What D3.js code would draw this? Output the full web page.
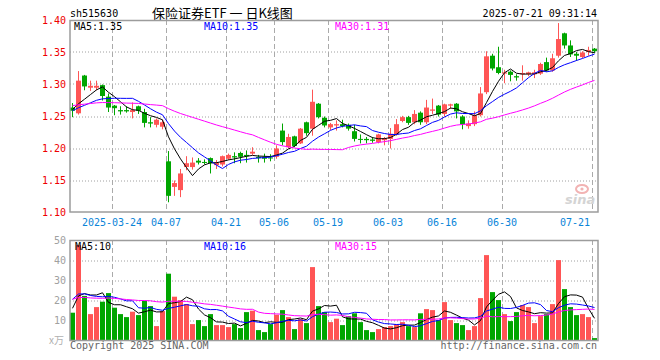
<!DOCTYPE html>
<html><head><meta charset="utf-8">
<script src="https://cdn.jsdelivr.net/npm/d3@7"></script>
<style>body{margin:0;background:#fff}svg{display:block}</style>
</head><body><svg id="c" width="660" height="360"></svg>
<script>
// ---- data ----
const dates = ["2025-03-13","2025-03-14","2025-03-17","2025-03-18","2025-03-19","2025-03-20","2025-03-21","2025-03-24","2025-03-25","2025-03-26","2025-03-27","2025-03-28","2025-03-31",
"2025-04-01","2025-04-02","2025-04-03","2025-04-07","2025-04-08","2025-04-09","2025-04-10","2025-04-11","2025-04-14","2025-04-15","2025-04-16","2025-04-17","2025-04-18","2025-04-21","2025-04-22","2025-04-23","2025-04-24","2025-04-25","2025-04-28","2025-04-29","2025-04-30",
"2025-05-06","2025-05-07","2025-05-08","2025-05-09","2025-05-12","2025-05-13","2025-05-14","2025-05-15","2025-05-16","2025-05-19","2025-05-20","2025-05-21","2025-05-22","2025-05-23","2025-05-26","2025-05-27","2025-05-28","2025-05-29","2025-05-30",
"2025-06-03","2025-06-04","2025-06-05","2025-06-06","2025-06-09","2025-06-10","2025-06-11","2025-06-12","2025-06-13","2025-06-16","2025-06-17","2025-06-18","2025-06-19","2025-06-20","2025-06-23","2025-06-24","2025-06-25","2025-06-26","2025-06-27","2025-06-30",
"2025-07-01","2025-07-02","2025-07-03","2025-07-04","2025-07-07","2025-07-08","2025-07-09","2025-07-10","2025-07-11","2025-07-14","2025-07-15","2025-07-16","2025-07-17","2025-07-18","2025-07-21"];
const open  = [1.264,1.255,1.314,1.295,1.295,1.299,1.281,1.267,1.260,1.260,1.257,1.266,1.257,1.241,1.237,1.234,1.180,1.140,1.135,1.171,1.171,1.181,1.179,1.185,1.174,1.175,1.184,1.188,1.193,1.190,1.192,1.187,1.187,1.186,1.187,1.228,1.202,1.219,1.208,1.241,1.231,1.270,1.248,1.233,1.236,1.238,1.237,1.227,1.215,1.215,1.214,1.210,1.213,1.215,1.222,1.243,1.249,1.241,1.256,1.241,1.259,1.267,1.254,1.267,1.270,1.250,1.235,1.238,1.252,1.288,1.345,1.327,1.317,1.320,1.313,1.316,1.316,1.316,1.317,1.335,1.322,1.345,1.380,1.361,1.348,1.343,1.351,1.356];
const high  = [1.271,1.321,1.315,1.306,1.306,1.300,1.286,1.268,1.266,1.266,1.272,1.267,1.262,1.249,1.247,1.245,1.196,1.150,1.168,1.188,1.186,1.185,1.183,1.186,1.182,1.189,1.192,1.194,1.195,1.197,1.202,1.190,1.192,1.191,1.205,1.239,1.223,1.220,1.232,1.242,1.292,1.271,1.250,1.240,1.244,1.245,1.239,1.237,1.222,1.218,1.218,1.223,1.218,1.232,1.246,1.251,1.251,1.260,1.258,1.276,1.278,1.268,1.270,1.270,1.271,1.252,1.244,1.258,1.296,1.352,1.348,1.359,1.323,1.322,1.316,1.330,1.320,1.323,1.334,1.342,1.348,1.396,1.381,1.369,1.351,1.352,1.359,1.357];
const low   = [1.249,1.253,1.291,1.290,1.291,1.275,1.257,1.252,1.253,1.256,1.247,1.254,1.233,1.233,1.233,1.230,1.116,1.126,1.124,1.166,1.167,1.175,1.175,1.161,1.168,1.172,1.182,1.177,1.177,1.178,1.190,1.178,1.178,1.180,1.184,1.205,1.200,1.202,1.207,1.220,1.220,1.247,1.233,1.229,1.228,1.233,1.228,1.211,1.208,1.208,1.209,1.208,1.205,1.200,1.220,1.241,1.237,1.238,1.237,1.238,1.254,1.250,1.250,1.262,1.247,1.230,1.231,1.235,1.250,1.285,1.322,1.316,1.302,1.305,1.306,1.306,1.313,1.310,1.315,1.320,1.320,1.342,1.356,1.343,1.337,1.341,1.345,1.349];
const close = [1.259,1.306,1.297,1.298,1.298,1.282,1.264,1.263,1.258,1.258,1.260,1.259,1.240,1.239,1.245,1.241,1.126,1.146,1.161,1.177,1.178,1.178,1.178,1.177,1.178,1.188,1.190,1.186,1.187,1.188,1.195,1.185,1.184,1.185,1.200,1.210,1.218,1.204,1.231,1.224,1.273,1.249,1.236,1.238,1.238,1.235,1.231,1.215,1.214,1.213,1.212,1.222,1.216,1.223,1.238,1.249,1.240,1.254,1.241,1.264,1.261,1.253,1.269,1.269,1.258,1.238,1.239,1.252,1.286,1.344,1.325,1.318,1.319,1.315,1.311,1.318,1.319,1.319,1.332,1.322,1.341,1.371,1.361,1.347,1.345,1.350,1.354,1.352];
const volume = [13.9,47.7,22.3,13.2,16.7,19.4,23.7,16.4,13.2,11.7,14.4,12.7,19.9,17.2,7.2,14.7,33.4,21.9,20.2,18.2,8.2,10.2,7.2,13.2,7.7,7.7,6.7,8.2,6.2,14.2,14.9,5.2,4.2,8.2,12.9,15.2,11.7,5.7,10.7,8.7,36.7,17.2,14.2,9.2,10.9,7.7,12.2,13.6,9.2,5.2,4.2,5.7,6.7,7.2,8.2,9.2,7.2,6.7,13.6,15.7,15.2,10.2,19.2,10.2,8.7,7.7,5.2,7.2,21.2,42.7,24.2,20.2,13.2,9.7,14.2,17.7,16.7,8.7,12.2,13.2,18.2,40.2,25.7,16.7,12.7,13.2,11.7,1.2];
const xTickDates  = ["2025-03-24","2025-04-07","2025-04-21","2025-05-06","2025-05-19","2025-06-03","2025-06-16","2025-06-30","2025-07-21"];
const xTickLabels = ["2025-03-24","04-07","04-21","05-06","05-19","06-03","06-16","06-30","07-21"];
const priceTicks = [1.10,1.15,1.20,1.25,1.30,1.35,1.40];
const volTicks = [10,20,30,40,50];
const maPeriods = [5,10,30];
const maNames = ["MA5","MA10","MA30"];
// MA values read at the first visible session (the window starts mid-history)
const priceMaStart = [1.261,1.259,1.267];
const volMaStart = [16.1,20.6,20.6];
const priceMaLabels = ["1.35","1.35","1.31"];
const volMaLabels = ["10","16","15"];
const maColors = ["#000000","#0000ff","#ff00ff"];
const titleCode = "sh515630";
const titleText = "保险证券ETF 一 日K线图";
const timeText = "2025-07-21 09:31:14";

// ---- drawing ----
const svg = d3.select("#c");
const L = 70, R = 598;
const mono = "'DejaVu Sans Mono', monospace";
const RED = "#ff5555", GREEN = "#00a600";
const x = d3.scaleBand().domain(dates).range([L, R]).paddingInner(0).paddingOuter(0);
const bw = x.bandwidth();
const y = d3.scaleLinear().domain([1.10, 1.40]).range([212.5, 20.5]);
const yv = d3.scaleLinear().domain([0, 50]).range([340.5, 240.5]);

// moving average; sessions before the window are represented by their mean,
// derived from the MA value read at the first visible session
function movingAvg(arr, n, start){
  const prior = (n * start - arr[0]) / (n - 1);
  return arr.map((_, i) => {
    const s = Math.max(0, i - n + 1);
    const have = arr.slice(s, i + 1);
    const missing = n - have.length;
    return (d3.sum(have) + missing * prior) / n;
  });
}

// header
svg.append("text").attr("x", L).attr("y", 16.5).attr("font-family", mono).attr("font-size", 10).text(titleCode);
svg.append("text").attr("x", 152).attr("y", 17.5).attr("font-family", "'Noto Sans CJK SC'").attr("font-size", 13)
  .attr("xml:space", "preserve").style("white-space", "pre").text(titleText);
svg.append("text").attr("x", 597).attr("y", 16.5).attr("text-anchor", "end").attr("font-family", mono).attr("font-size", 10).text(timeText);

function panelGrid(yScale, ticks, top, bottom){
  const g = svg.append("g");
  g.selectAll("line.h").data(ticks).join("line")
    .attr("x1", L).attr("x2", R).attr("y1", d => Math.round(yScale(d))).attr("y2", d => Math.round(yScale(d)))
    .attr("stroke", "#a0a0a0").attr("stroke-dasharray", "1,2");
  g.selectAll("line.v").data(xTickDates).join("line")
    .attr("x1", d => x(d) + 0.5).attr("x2", d => x(d) + 0.5).attr("y1", top).attr("y2", bottom)
    .attr("stroke", "#aaaaaa").attr("stroke-dasharray", "5,3");
}
panelGrid(y, priceTicks.filter(t => t > 1.10 && t < 1.40), 20, 212);
panelGrid(yv, volTicks.filter(t => t < 50), 240, 340);

// sina watermark
const wm = svg.append("g");
wm.append("ellipse").attr("cx", 582).attr("cy", 189).attr("rx", 6).attr("ry", 4).attr("fill", "none").attr("stroke", "#f2b3b3").attr("stroke-width", 2);
wm.append("circle").attr("cx", 582).attr("cy", 189).attr("r", 1.6).attr("fill", "#f2b3b3");
wm.append("text").attr("x", 565).attr("y", 204).attr("font-family", "'DejaVu Sans'").attr("font-style", "italic").attr("font-weight", "bold").attr("font-size", 13).attr("fill", "#d4d4d4").text("sina");

// candles
const cg = svg.append("g");
dates.forEach((d, i) => {
  const up = close[i] >= open[i];
  const col = up ? RED : GREEN;
  const x0 = x(d);
  cg.append("rect").attr("x", x0 + 2).attr("width", 1).attr("y", y(high[i])).attr("height", Math.max(1, y(low[i]) - y(high[i]))).attr("fill", col);
  const top = y(Math.max(open[i], close[i])), bot = y(Math.min(open[i], close[i]));
  cg.append("rect").attr("x", x0).attr("width", bw - 1).attr("y", top).attr("height", Math.max(1, bot - top)).attr("fill", col);
});
// volume bars
svg.append("g").selectAll("rect").data(dates).join("rect")
  .attr("x", d => x(d)).attr("width", bw - 1)
  .attr("y", (d, i) => yv(volume[i])).attr("height", (d, i) => yv(0) - yv(volume[i]))
  .attr("fill", (d, i) => close[i] >= open[i] ? RED : GREEN);

// MA lines
maPeriods.forEach((n, k) => {
  const pm = movingAvg(close, n, priceMaStart[k]), vm = movingAvg(volume, n, volMaStart[k]);
  const lp = d3.line().x((v, i) => x(dates[i]) + 2.5).y(v => y(v));
  const lv = d3.line().x((v, i) => x(dates[i]) + 2.5).y(v => yv(v));
  svg.append("path").attr("d", lp(pm)).attr("fill", "none").attr("stroke", maColors[k]).attr("stroke-width", 1);
  svg.append("path").attr("d", lv(vm)).attr("fill", "none").attr("stroke", maColors[k]).attr("stroke-width", 1);
});

// borders
svg.append("rect").attr("x", L).attr("y", 20.5).attr("width", R - L).attr("height", 191.5).attr("fill", "none").attr("stroke", "#9c9c9c").attr("stroke-width", 1.5);
svg.append("rect").attr("x", L).attr("y", 240.5).attr("width", R - L).attr("height", 100).attr("fill", "none").attr("stroke", "#9c9c9c").attr("stroke-width", 1.5);

// MA labels
const labX = [74, 204, 335];
maNames.forEach((nm, k) => {
  svg.append("text").attr("x", labX[k]).attr("y", 29.5).attr("font-family", mono).attr("font-size", 10).attr("fill", maColors[k]).text(nm + ":" + priceMaLabels[k]);
  svg.append("text").attr("x", labX[k] + (k === 0 ? 1 : 0)).attr("y", 249.5).attr("font-family", mono).attr("font-size", 10).attr("fill", maColors[k]).text(nm + ":" + volMaLabels[k]);
});

// y axes labels
svg.append("g").selectAll("text").data(priceTicks).join("text")
  .attr("x", 66).attr("y", d => y(d) + 3.7).attr("text-anchor", "end")
  .attr("font-family", mono).attr("font-size", 10).attr("fill", "#ee0000").text(d => d.toFixed(2));
svg.append("g").selectAll("text").data(volTicks).join("text")
  .attr("x", 66).attr("y", d => yv(d) + 3.5).attr("text-anchor", "end")
  .attr("font-family", mono).attr("font-size", 10).attr("fill", "#a0a0a0").text(d => d);
svg.append("text").attr("x", 49).attr("y", 344).attr("font-family", "'Noto Sans CJK SC'").attr("font-size", 10).attr("fill", "#b0b0b0").text("x万");

// x axis labels
xTickDates.forEach((d, i) => {
  const cx = x(d);
  const w = xTickLabels[i].length * 6.02;
  const fits = cx + w / 2 <= R;
  svg.append("text").attr("x", fits ? cx : cx - 2).attr("y", 225.5)
    .attr("text-anchor", fits ? "middle" : "end")
    .attr("font-family", mono).attr("font-size", 10).attr("fill", "#0a84d8").text(xTickLabels[i]);
});

// footer
svg.append("text").attr("x", L).attr("y", 349).attr("font-family", mono).attr("font-size", 10).attr("fill", "#666").text("Copyright 2025 SINA.COM");
svg.append("text").attr("x", 597).attr("y", 349).attr("text-anchor", "end").attr("font-family", mono).attr("font-size", 10).attr("fill", "#666").text("http://finance.sina.com.cn");
</script></body></html>
